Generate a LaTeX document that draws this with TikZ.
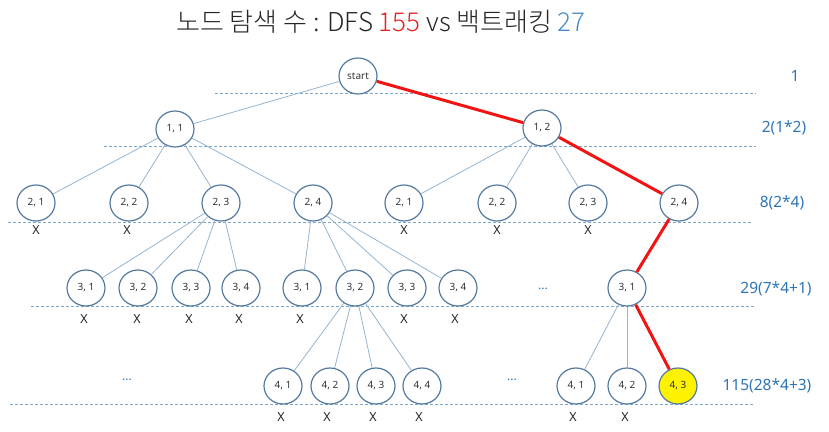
\documentclass[tikz,border=0pt]{standalone}
\usepackage{fontspec}
\setmainfont{Noto Sans}
\newfontfamily\cjk{Noto Sans CJK KR Light}
\usetikzlibrary{shapes.geometric}
\definecolor{nodeborder}{RGB}{84,122,160}
\definecolor{edgeblue}{RGB}{150,180,208}
\definecolor{dashblue}{RGB}{125,168,204}
\definecolor{pathred}{RGB}{240,20,20}
\definecolor{lblblue}{RGB}{46,117,182}
\definecolor{titlered}{RGB}{230,35,35}
\definecolor{titleblue}{RGB}{70,140,200}
\tikzset{
  tnode/.style={ellipse, draw=nodeborder, line width=1.2pt, fill=white, minimum width=38pt, minimum height=36pt, inner sep=0pt, font=\fontsize{10}{12}\selectfont, text=black!80},
  goal/.style={tnode, fill=yellow},
  tedge/.style={draw=edgeblue, line width=0.8pt},
  redge/.style={draw=pathred, line width=3pt},
  levelline/.style={draw=dashblue, line width=0.9pt, dash pattern=on 3pt off 2pt},
  xmark/.style={font=\fontsize{12.5}{14}\selectfont, text=black!85, inner sep=0pt},
  lvl/.style={font=\fontsize{15.5}{18}\selectfont, text=lblblue, inner sep=0pt},
  dots/.style={font=\fontsize{12}{14}\selectfont, text=lblblue, inner sep=0pt}
}
\begin{document}
\begin{tikzpicture}[x=1pt,y=-1pt]
\useasboundingbox (0,0) rectangle (829,431);
% title
\node[inner sep=0pt, font=\cjk\fontsize{26}{30}\selectfont, text=black!85] (title) at (381,22)
  {노드 탐색 수 : DFS \textcolor{titlered}{155} vs 백트래킹 \textcolor{titleblue}{27}};
% level lines
\draw[levelline] (215,93.5) -- (756,93.5);
\draw[levelline] (104,146.7) -- (756,146.7);
\draw[levelline] (8,222.7) -- (753,222.7);
\draw[levelline] (31,306.7) -- (754,306.7);
\draw[levelline] (10,404) -- (754,404);
% nodes
\node[tnode] (start) at (358,76) {start};
\node[tnode] (n11) at (175,129) {1, 1};
\node[tnode] (n12) at (542,128) {1, 2};
\node[tnode] (a21) at (36,203) {2, 1};
\node[tnode] (a22) at (129,203) {2, 2};
\node[tnode] (a23) at (221,203) {2, 3};
\node[tnode] (a24) at (313,203) {2, 4};
\node[tnode] (b21) at (404,203) {2, 1};
\node[tnode] (b22) at (497,203) {2, 2};
\node[tnode] (b23) at (588,203) {2, 3};
\node[tnode] (b24) at (679,203) {2, 4};
\node[tnode] (c31) at (86,288) {3, 1};
\node[tnode] (c32) at (138,288) {3, 2};
\node[tnode] (c33) at (191,288) {3, 3};
\node[tnode] (c34) at (241,288) {3, 4};
\node[tnode] (d31) at (302,288) {3, 1};
\node[tnode] (d32) at (355,288) {3, 2};
\node[tnode] (d33) at (407,288) {3, 3};
\node[tnode] (d34) at (458,288) {3, 4};
\node[tnode] (e31) at (627,288) {3, 1};
\node[tnode] (f41) at (283,386) {4, 1};
\node[tnode] (f42) at (330,386) {4, 2};
\node[tnode] (f43) at (376,386) {4, 3};
\node[tnode] (f44) at (422,386) {4, 4};
\node[tnode] (g41) at (576,386) {4, 1};
\node[tnode] (g42) at (627,386) {4, 2};
\node[goal] (g43) at (678,386) {4, 3};
% edges
\draw[tedge] (start) -- (n11);
\draw[redge] (start) -- (n12);
\foreach \c in {a21,a22,a23,a24} \draw[tedge] (n11) -- (\c);
\foreach \c in {b21,b22,b23} \draw[tedge] (n12) -- (\c);
\draw[redge] (n12) -- (b24);
\foreach \c in {c31,c32,c33,c34} \draw[tedge] (a23) -- (\c);
\foreach \c in {d31,d32,d33,d34} \draw[tedge] (a24) -- (\c);
\draw[redge] (b24) -- (e31);
\foreach \c in {f41,f42,f43,f44} \draw[tedge] (d32) -- (\c);
\foreach \c in {g41,g42} \draw[tedge] (e31) -- (\c);
\draw[redge] (e31) -- (g43);
% X marks
\foreach \i/\x in {1/36,2/127,3/404,4/497,5/588} \node[xmark] (xa\i) at (\x,230) {X};
\foreach \i/\x in {1/84,2/137,3/189,4/239,5/300,6/404,7/455} \node[xmark] (xb\i) at (\x,319) {X};
\foreach \i/\x in {1/281,2/327,3/373,4/419,5/573,6/625} \node[xmark] (xc\i) at (\x,417) {X};
% dots
\node[dots] (dots1) at (127,380) {...};
\node[dots] (dots2) at (543,289) {...};
\node[dots] (dots3) at (512,380) {...};
% level counts
\node[lvl] (l0) at (795,76) {1};
\node[lvl] (l1) at (784,128) {2(1*2)};
\node[lvl] (l2) at (782,203) {8(2*4)};
\node[lvl] (l3) at (776,289) {29(7*4+1)};
\node[lvl] (l4) at (767,386) {115(28*4+3)};
\end{tikzpicture}
\end{document}
